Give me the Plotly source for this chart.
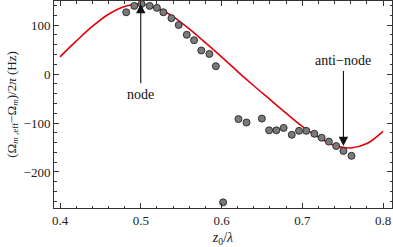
import plotly.graph_objects as go

# measured points
meas_x = [0.482, 0.492, 0.501, 0.511, 0.520, 0.528, 0.538, 0.547, 0.557, 0.566,
          0.575, 0.585, 0.593, 0.602, 0.621, 0.631, 0.650, 0.659, 0.668, 0.677,
          0.687, 0.696, 0.705, 0.715, 0.724, 0.733, 0.742, 0.751, 0.761]
meas_y = [126, 139, 143, 139, 135, 126, 114, 100, 80, 69,
          48, 41, 16, -262, -92, -99, -91, -115, -115, -110,
          -124, -116, -116, -122, -130, -138, -147, -157, -167]

# theory curve
theo_x = [0.40, 0.42, 0.44, 0.46, 0.48, 0.50, 0.52, 0.54, 0.56, 0.58, 0.60,
          0.62, 0.64, 0.66, 0.68, 0.70, 0.72, 0.74, 0.76, 0.78, 0.80]
theo_y = [35, 67, 97, 122, 138, 143, 135, 117, 92, 64, 35,
          5, -24, -52, -80, -107, -129, -146, -151, -142, -117]

x_ticks = [0.4, 0.5, 0.6, 0.7, 0.8]
y_ticks = [-200, -100, 0, 100]

FONT = "Liberation Serif"

fig = go.Figure()
fig.add_trace(go.Scatter(x=theo_x, y=theo_y, mode="lines",
                         line=dict(color="#e3000b", width=1.6, shape="spline"),
                         showlegend=False, hoverinfo="skip"))
fig.add_trace(go.Scatter(x=meas_x, y=meas_y, mode="markers",
                         marker=dict(size=7, color="#7a7a7a",
                                     line=dict(color="#222222", width=0.9)),
                         showlegend=False))

axis_common = dict(showgrid=False, zeroline=False, showline=True, linecolor="#333333",
                   linewidth=1, mirror="allticks", ticks="inside", ticklen=5,
                   tickcolor="#333333", tickwidth=0.8,
                   tickfont=dict(family=FONT, size=13, color="#222222"))

fig.update_xaxes(range=[0.39257, 0.81115], tickvals=x_ticks,
                 ticktext=[f"{v:.1f}" for v in x_ticks],
                 minor=dict(ticks="inside", ticklen=2.5, dtick=0.02, tick0=0.4,
                            tickcolor="#333333", tickwidth=0.7),
                 title=dict(text="<i>z</i><sub>0</sub>/<i>λ</i>",
                            font=dict(family=FONT, size=14, color="#222222"),
                            standoff=6),
                 **axis_common)
fig.update_yaxes(range=[-273.5, 149], tickvals=y_ticks,
                 ticktext=["−200", "−100", "0", "100"],
                 minor=dict(ticks="inside", ticklen=2.5, dtick=20, tick0=0,
                            tickcolor="#333333", tickwidth=0.7),
                 title=dict(text="(Ω<sub><i>m</i> ,eff</sub>−Ω<sub><i>m</i></sub>)/2<i>π</i> (Hz)",
                            font=dict(family=FONT, size=13, color="#222222"),
                            standoff=4),
                 **axis_common)

# arrows
fig.add_annotation(x=0.5, y=143, ax=0.5, ay=-22, xref="x", yref="y",
                   axref="x", ayref="y", text="", showarrow=True,
                   arrowhead=2, arrowsize=1.7, arrowwidth=1.1, arrowcolor="#111111")
fig.add_annotation(x=0.5, y=-42, xref="x", yref="y", text="node", showarrow=False,
                   font=dict(family=FONT, size=14, color="#111111"))
fig.add_annotation(x=0.751, y=-147, ax=0.751, ay=9, xref="x", yref="y",
                   axref="x", ayref="y", text="", showarrow=True,
                   arrowhead=2, arrowsize=1.7, arrowwidth=1.1, arrowcolor="#111111")
fig.add_annotation(x=0.751, y=27, xref="x", yref="y", text="anti−node", showarrow=False,
                   font=dict(family=FONT, size=14, color="#111111"))

fig.update_layout(width=393, height=247,
                  margin=dict(l=54, r=1, t=1, b=39),
                  plot_bgcolor="white", paper_bgcolor="white")

fig.write_html("out.html", config={"displayModeBar": False},
               post_script="document.body.style.margin='0';document.body.style.overflow='hidden';")
